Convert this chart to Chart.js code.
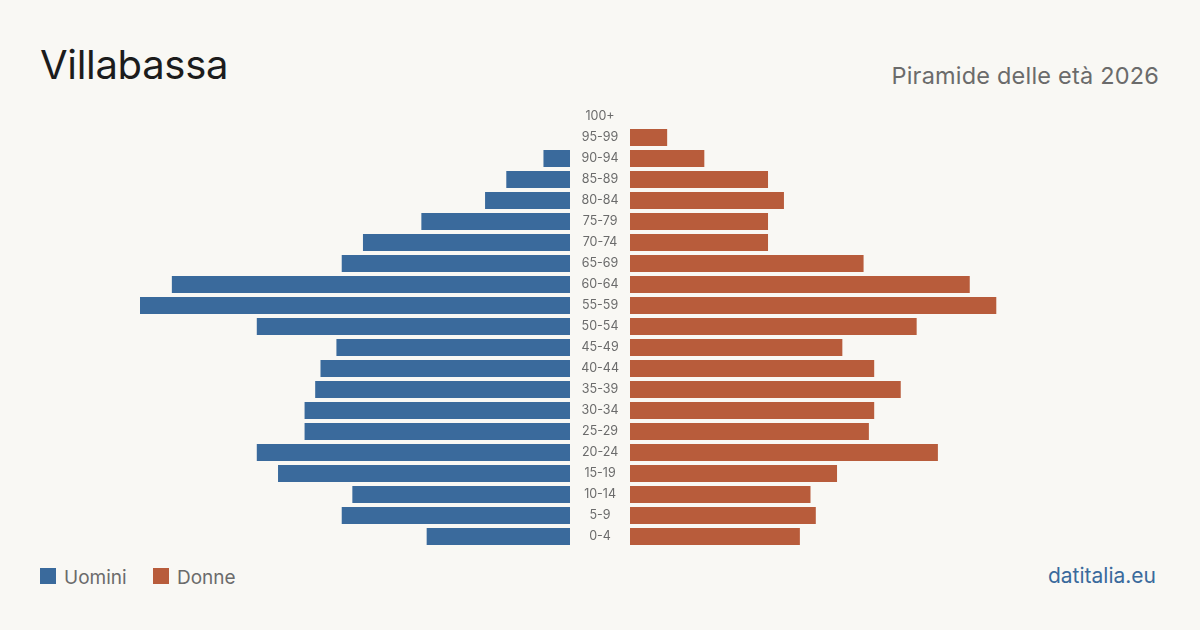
<!DOCTYPE html>
<html lang="it">
<head>
<meta charset="utf-8">
<script src="https://cdn.jsdelivr.net/npm/chart.js@4/dist/chart.umd.min.js"></script>
<style>
  html, body { margin: 0; padding: 0; }
  body {
    width: 1200px; height: 630px; background: #f9f8f4;
    font-family: Inter, "Noto Sans", sans-serif; position: relative; overflow: hidden;
  }
  h1 {
    position: absolute; left: 40px; top: 40px; margin: 0;
    font-size: 40px; font-weight: 400; color: #1c1c1c; letter-spacing: -0.3px;
  }
  .sub {
    position: absolute; right: 41px; top: 61px; font-size: 23.5px; color: #6b6b6b; letter-spacing: 0.2px;
  }
  .box { position: absolute; top: 106px; height: 441px; }
  #left { left: 140px; width: 430px; }
  #right { left: 570px; width: 490px; }
  .legend { position: absolute; top: 566px; font-size: 19px; color: #6b6b6b; line-height: 24px; }
  .sw { position: absolute; top: 568px; width: 16px; height: 16px; }
  .site { position: absolute; right: 44px; top: 563px; font-size: 21px; color: #3a6a9c; }
</style>
</head>
<body>
<h1>Villabassa</h1>
<div class="sub">Piramide delle età 2026</div>
<div class="box" id="left"><canvas id="men-chart"></canvas></div>
<div class="box" id="right"><canvas id="women-chart"></canvas></div>
<div class="sw" style="left:40px;background:#3a6a9c"></div>
<div class="legend" style="left:64px">Uomini</div>
<div class="sw" style="left:153px;background:#b85c3b"></div>
<div class="legend" style="left:177px">Donne</div>
<div class="site">datitalia.eu</div>
<script>
const ageGroups = ["100+", "95-99", "90-94", "85-89", "80-84", "75-79", "70-74", "65-69", "60-64", "55-59",
  "50-54", "45-49", "40-44", "35-39", "30-34", "25-29", "20-24", "15-19", "10-14", "5-9", "0-4"];
const men   = [0, 0, 5, 12, 16, 28, 39, 43, 75, 81, 59, 44, 47, 48, 50, 50, 59, 55, 41, 43, 27];
const women = [0, 7, 14, 26, 29, 26, 26, 44, 64, 69, 54, 40, 46, 51, 46, 45, 58, 39, 34, 35, 32];

const blue = "#3a6a9c";
const orange = "#b85c3b";
const scaleMax = 81;

function barOptions(reverse, showLabels) {
  return {
    indexAxis: "y",
    responsive: true,
    maintainAspectRatio: false,
    animation: false,
    layout: { padding: 0 },
    plugins: { legend: { display: false }, tooltip: { enabled: false } },
    scales: {
      x: { display: false, min: 0, max: scaleMax, reverse: reverse },
      y: showLabels ? {
        grid: { display: false, drawTicks: false },
        border: { display: false },
        ticks: { color: "#6b6b6b", font: { family: "Inter", size: 12.5 }, crossAlign: "center", padding: 11 },
        afterFit: (axis) => {
          // keep the label column 60px wide and stop the tick padding from shrinking the plot
          axis.width = 60;
          axis.paddingTop = 0;
          axis.paddingBottom = 0;
        }
      } : { display: false }
    }
  };
}

new Chart(document.getElementById("men-chart"), {
  type: "bar",
  data: { labels: ageGroups, datasets: [{ data: men, backgroundColor: blue, barPercentage: 0.81, categoryPercentage: 1 }] },
  options: barOptions(true, false)
});

new Chart(document.getElementById("women-chart"), {
  type: "bar",
  data: { labels: ageGroups, datasets: [{ data: women, backgroundColor: orange, barPercentage: 0.81, categoryPercentage: 1 }] },
  options: barOptions(false, true)
});
</script>
</body>
</html>
